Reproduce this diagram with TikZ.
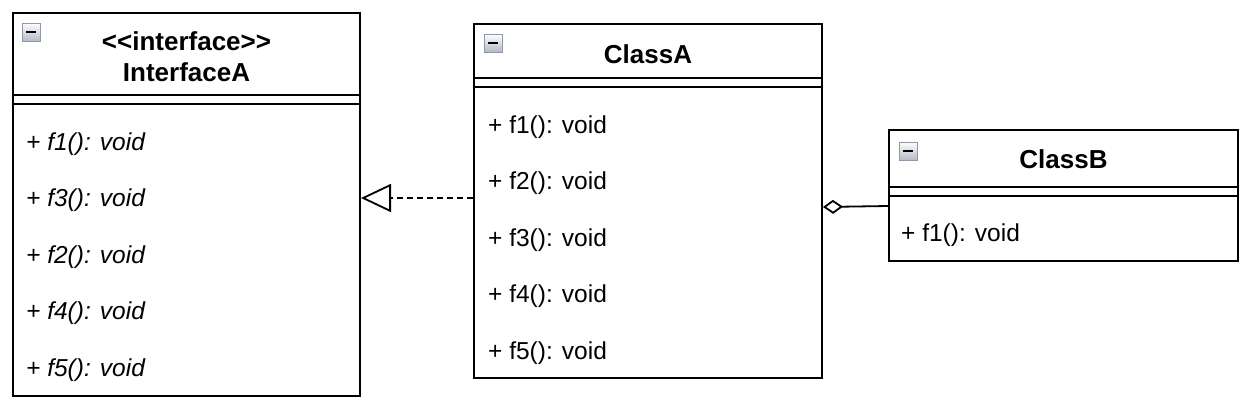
\documentclass[tikz,border=0pt]{standalone}
\usepackage{fontspec}
\setmainfont{Liberation Sans}
\usetikzlibrary{arrows.meta}

\definecolor{iconedge}{HTML}{9097A6}
\definecolor{iconfill}{HTML}{B4B9C6}

\tikzset{
  umlbox/.style={draw, line width=2pt, inner sep=0pt},
  sepline/.style={line width=1.6pt},
  titletext/.style={font=\fontsize{26}{30}\selectfont\bfseries, anchor=base, inner sep=0pt},
  membertext/.style={font=\fontsize{24.5}{28}\selectfont, anchor=base west, inner sep=0pt},
  realize/.style={line width=1.8pt, dash pattern=on 6pt off 4pt, -{Triangle[open, length=30pt, width=28pt, line width=1.8pt]}},
  aggr/.style={line width=1.8pt, -{Diamond[open, length=20pt, width=14pt, line width=1.8pt]}},
  minusicon/.pic={
    \draw[iconedge, line width=1pt, top color=white, bottom color=iconfill] (0,0) rectangle (18,18);
    \draw[line width=2.5pt] (4,9) -- (14,9);
  }
}

\begin{document}
\begin{tikzpicture}[x=1pt, y=-1pt]
  \useasboundingbox (0,0) rectangle (1253,407);

  % InterfaceA
  \node[umlbox, minimum width=347pt, minimum height=383pt] (ifaceA) at (186.5,204.5) {};
  \pic at (22,23) {minusicon};
  \node[titletext] (ifaceStereo) at (186.5,50) {<\kern0pt<interface>\kern0pt>};
  \node[titletext] (ifaceName) at (186.5,81) {InterfaceA};
  \draw[sepline] (ifaceA.west |- 0,95) -- (ifaceA.east |- 0,95);
  \draw[sepline] (ifaceA.west |- 0,104) -- (ifaceA.east |- 0,104);
  \foreach \fn [count=\i] in {f1,f3,f2,f4,f5}
    \node[membertext, font=\fontsize{24.5}{28}\selectfont\itshape] (ifaceM\i) at (26,{150+56.5*(\i-1)}) {+ \fn(): void};

  % ClassA
  \node[umlbox, minimum width=348pt, minimum height=354pt] (classA) at (648,201) {};
  \pic at (484,34) {minusicon};
  \node[titletext] (classAName) at (648,63) {ClassA};
  \draw[sepline] (classA.west |- 0,78) -- (classA.east |- 0,78);
  \draw[sepline] (classA.west |- 0,87) -- (classA.east |- 0,87);
  \foreach \fn [count=\i] in {f1,f2,f3,f4,f5}
    \node[membertext] (classAM\i) at (488,{133+56.5*(\i-1)}) {+ \fn(): void};

  % ClassB
  \node[umlbox, minimum width=349pt, minimum height=131pt] (classB) at (1063.5,195.5) {};
  \pic at (899,142) {minusicon};
  \node[titletext] (classBName) at (1063.5,168) {ClassB};
  \draw[sepline] (classB.west |- 0,187) -- (classB.east |- 0,187);
  \draw[sepline] (classB.west |- 0,196) -- (classB.east |- 0,196);
  \node[membertext] (classBM1) at (901,241) {+ f1(): void};

  % relations
  \draw[realize] (classA.west |- 0,198) -- (ifaceA.east |- 0,198);
  \draw[aggr] (classB.west |- 0,206) -- (classA.east |- 0,207);
\end{tikzpicture}
\end{document}
